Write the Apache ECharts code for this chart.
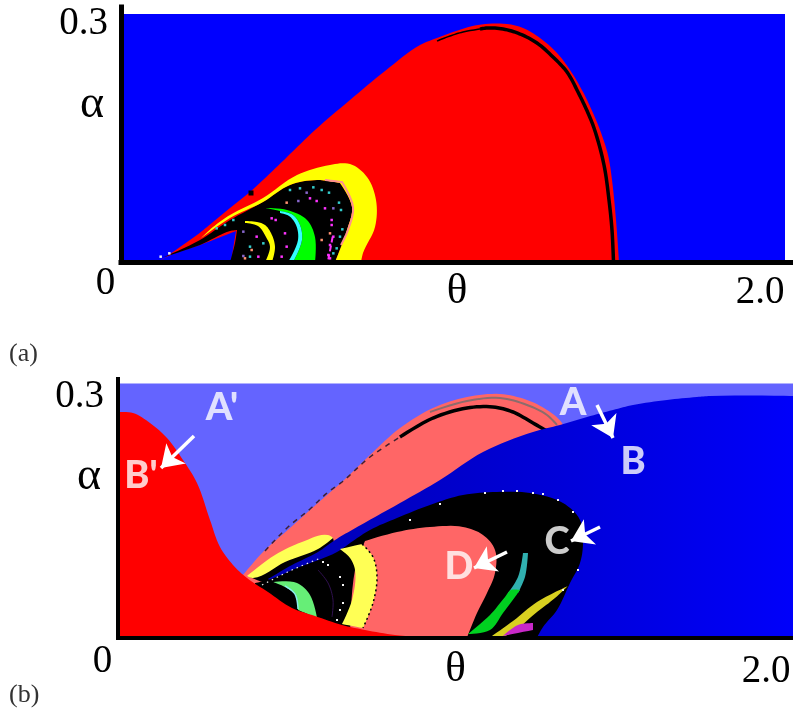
<!DOCTYPE html>
<html><head><meta charset="utf-8">
<script src="https://cdn.jsdelivr.net/npm/echarts@6/dist/echarts.min.js"></script>
<style>html,body{margin:0;padding:0;background:#fff}#c{width:793px;height:710px}</style>
</head><body><div id="c"></div>
<script>
// ---- axis labels
const xTickValues=[0,2.0];
const xTickLabels=['0','2.0'];
const yTickValues=[0.3];
const yTickLabels=['0.3'];
// ---- panel (a): region boundaries in (theta, alpha)
const aDomain=[[0,0],[1.992,0],[1.992,.2976],[0,.2976]];
const aRed=[[.117,.0012],[.177,.018],[.228,.0324],[.276,.048],[.327,.0648],[.387,.084],[.426,.0984],[.498,.126],[.582,.1584],[.687,.1944],[.792,.2292],[.897,.2604],[.948,.2688],[.996,.276],[1.071,.2844],[1.158,.2856],[1.206,.2808],[1.257,.2688],[1.308,.2508],[1.347,.2304],[1.386,.204],[1.416,.1788],[1.437,.1584],[1.461,.1284],[1.473,.0984],[1.485,.0504],[1.494,0],[.33,0],[.345,.0372],[.237,.0204],[.129,.0048]];
const aArcThin=[[.948,.2652],[.987,.2712],[1.026,.276],[1.098,.2808]];
const aArc=[[1.077,.2796],[1.098,.2808],[1.146,.2796],[1.197,.2736],[1.248,.2628],[1.296,.246],[1.338,.228],[1.371,.204],[1.401,.1788],[1.419,.1608],[1.449,.1164],[1.464,.0744],[1.473,.0384],[1.4775,0]];
const aYellow=[[.237,.0276],[.276,.042],[.327,.0564],[.426,.0768],[.528,.1044],[.627,.1164],[.687,.1176],[.738,.102],[.765,.0744],[.762,.042],[.726,.0108],[.72,0],[.642,0],[.678,.0384],[.693,.066],[.657,.0948],[.588,.0984],[.507,.0924],[.426,.072],[.327,.0528]];
const aPink=[[.612,.0984],[.663,.096],[.696,.066],[.681,.0384],[.66,.0204]];
const aBlack=[[.642,0],[.678,.0384],[.693,.066],[.657,.0948],[.588,.0984],[.507,.0924],[.426,.072],[.327,.0504],[.237,.0264],[.129,.006],[.237,.0204],[.327,.0372],[.348,.0384],[.342,.0228],[.327,0]];
const aGreen=[[.432,.0648],[.498,.0624],[.558,.0504],[.582,.03],[.582,0],[.516,0],[.543,.0264],[.537,.0444],[.516,.0564],[.477,.0612]];
const aCyan=[[.501,0],[.531,.0264],[.525,.0444],[.504,.0552],[.477,.0588],[.477,.0612],[.516,.0564],[.537,.0444],[.543,.0264],[.516,0]];
const aYellowSmall=[[.372,.0492],[.408,.048],[.432,.0444],[.45,.0348],[.462,.018],[.453,0],[.432,0],[.447,.018],[.435,.03],[.411,.0432],[.372,.0468]];
const aStreak=[[.635,.0304],[.622,.0032]];
const aDotsCyan=[[.507,.0864],[.537,.0884],[.577,.0896],[.602,.0864],[.624,.0832],[.654,.0712],[.66,.0624],[.664,.0392],[.657,.0304],[.647,.0164],[.637,.0104],[.337,.0504],[.312,.0444],[.287,.0404],[.387,.0184],[.387,.0064],[.427,.0224]];
const aDotsMagenta=[[.567,.0764],[.587,.0732],[.612,.0644],[.632,.0504],[.632,.0444],[.637,.0304],[.627,.0204],[.622,.0084],[.627,.0044],[.452,.0524],[.464,.0504],[.407,.0304],[.412,.0064],[.492,.0344],[.497,.0184],[.482,.0064]];
const aDotsPurple=[[.557,.0832],[.532,.0732],[.637,.0644],[.367,.0364],[.367,.0072]];
const aDotsSalmon=[[.497,.0712],[.602,.0264],[.627,.0344],[.392,.0144],[.372,.0044]];
const aDotsTail=[[.145,.0104],[.119,.0064]];
const aBigDot=[[.39,.0828]];
// ---- panel (b)
const bDomain=[[0,0],[2.025,0],[2.025,.2997],[0,.2997]];
const bLobe=[[.375,.0738],[.435,.1009],[.516,.1292],[.576,.1505],[.627,.1682],[.675,.1847],[.756,.2154],[.846,.2472],[.945,.2708],[1.047,.2838],[1.146,.2873],[1.227,.2803],[1.287,.2685],[1.332,.2531],[1.341,.2425],[.846,.1387],[.396,.056]];
const bArc=[[.846,.2366],[.945,.259],[1.047,.2708],[1.125,.272],[1.185,.2661],[1.245,.2531],[1.287,.2437]];
const bArcDash=[[.441,.1021],[.51,.1304],[.576,.1516],[.627,.1705],[.672,.1835],[.756,.213],[.846,.2366]];
const bArcGrey=[[.936,.2661],[1.047,.2791],[1.146,.2826],[1.227,.2744],[1.287,.2626],[1.317,.2508]];
const bStrip=[[.396,.0714],[.501,.0903],[.645,.1174],[.651,.108],[.456,.0643]];
const bDeep=[[.45,.069],[.522,.0856],[.6,.1009],[.651,.1151],[.702,.1269],[.846,.1587],[.966,.1859],[1.095,.2189],[1.245,.2425],[1.326,.2508],[1.407,.2602],[1.485,.2685],[1.545,.2744],[1.647,.2803],[1.737,.2838],[1.776,.285],[2.025,.285],[2.025,0],[1.146,0],[.546,.0443]];
const bBlack=[[.411,.0643],[.45,.0679],[.537,.082],[.657,.1009],[.705,.1139],[.756,.1269],[.837,.141],[.936,.1564],[1.035,.1682],[1.137,.1717],[1.236,.1705],[1.335,.1587],[1.386,.1387],[1.395,.1115],[1.386,.0879],[1.356,.0643],[1.317,.0325],[1.275,.0124],[1.257,0],[.636,0],[.411,.0443]];
const bSalmon=[[.741,.1139],[.837,.1245],[.936,.1304],[1.035,.1304],[1.095,.121],[1.131,.1033],[1.131,.0761],[1.107,.0525],[1.077,.0289],[1.047,0],[.696,0],[.711,.0797]];
const bYellowMid=[[.666,.1044],[.732,.1103],[.765,.095],[.777,.0714],[.765,.0407],[.735,.0112],[.672,.0159],[.702,.0443],[.711,.0797],[.696,.0938]];
const bYellowEdge=[[.732,.1103],[.765,.095],[.777,.0714],[.765,.0407],[.735,.0112]];
const bYellowSliver=[[.387,.0726],[.471,.0974],[.552,.1127],[.63,.121],[.645,.1174],[.6,.1044],[.501,.0891],[.405,.0702]];
const bMint=[[.465,.0655],[.537,.0643],[.576,.0502],[.597,.023],[.54,.0325],[.531,.0513],[.501,.0596]];
const bMintEdge=[[.501,.0608],[.531,.0513],[.54,.0337]];
const bPurpleArc=[[.6,.0797],[.63,.0644],[.645,.0443],[.642,.0242]];
const bTeal=[[1.23,.0997],[1.221,.0714],[1.2,.0525],[1.17,.0525],[1.2,.0714],[1.215,.0997]];
const bGreen=[[1.206,.0561],[1.191,.0478],[1.155,.0289],[1.116,.0089],[1.05,.0041],[1.116,.0266],[1.161,.0478],[1.179,.0561]];
const bOlive=[[1.35,.0608],[1.257,.0419],[1.185,.0195],[1.122,.0018],[1.161,.0018],[1.257,.0301],[1.311,.0466]];
const bMagenta=[[1.2,.0148],[1.245,.0171],[1.245,.0089],[1.155,.0018]];
const bRed=[[0,.2661],[.045,.2649],[.096,.2531],[.147,.2354],[.195,.2095],[.237,.1823],[.276,.1387],[.306,.1068],[.345,.0856],[.387,.0702],[.45,.0537],[.522,.0348],[.591,.0254],[.672,.0148],[.741,.0089],[.831,.003],[.936,0],[0,0]];
const bTailDots=[[.432,.062],[.522,.0797],[.612,.0944]];
const bDotsWhite=[[.615,.0891],[.63,.0856],[.666,.0714],[.675,.062],[.675,.0407],[.666,.0325],[.657,.0207],[1.101,.1705],[1.155,.1729],[1.197,.1729],[1.245,.1705],[1.275,.1693],[1.32,.1623],[1.365,.1481],[1.38,.0797],[1.335,.0561],[.966,.1575],[.876,.1387]];
const bLetters=['A',"A'",'B',"B'",'C','D'];
const bLetterPos=[[1.365,.2767],[.312,.2708],[1.545,.2071],[.069,.1906],[1.317,.1127],[1.023,.0832]];
const bArrows=[[[1.437,.2744],[1.485,.2354]],[[.228,.2378],[.129,.2]],[[1.446,.1304],[1.359,.1139]],[[1.167,.1009],[1.068,.082]]];

// rounds the drawn outline between read points, keeping sharp corners sharp
function rounded(p,closed){
  const n=p.length,unit=(a,b)=>{const d=Math.hypot(b[0]-a[0],b[1]-a[1])||1;return [(b[0]-a[0])/d,(b[1]-a[1])/d];};
  const tan=p.map((q,i)=>{
    if(!closed&&(i===0||i===n-1))return [0,0];
    const a=unit(p[(i-1+n)%n],q),b=unit(q,p[(i+1)%n]);
    if(a[0]*b[0]+a[1]*b[1]<.64)return [0,0];
    const s=[a[0]+b[0],a[1]+b[1]],d=Math.hypot(s[0],s[1])||1;return [s[0]/d,s[1]/d];
  });
  const out=[];
  for(let i=0;i<(closed?n:n-1);i++){
    const a=p[i],b=p[(i+1)%n],t0=tan[i],t1=tan[(i+1)%n],L=Math.hypot(b[0]-a[0],b[1]-a[1])/3;
    const c1=[a[0]+t0[0]*L,a[1]+t0[1]*L],c2=[b[0]-t1[0]*L,b[1]-t1[1]*L];
    for(let k=0;k<8;k++){const u=k/8,v=1-u;
      out.push([v*v*v*a[0]+3*v*v*u*c1[0]+3*v*u*u*c2[0]+u*u*u*b[0],v*v*v*a[1]+3*v*v*u*c1[1]+3*v*u*u*c2[1]+u*u*u*b[1]]);}
  }
  if(!closed)out.push(p[n-1]);
  return out;
}
let layer=1;
function poly(g,pts,color){
  return {type:'custom',coordinateSystem:'cartesian2d',xAxisIndex:g,yAxisIndex:g,z:layer++,silent:true,animation:false,clip:true,
    data:pts,encode:{x:0,y:1},
    renderItem:(p,api)=>p.dataIndex===0?{type:'polygon',shape:{points:rounded(pts.map(q=>api.coord(q)),true)},style:{fill:color}}:null};
}
function curve(g,pts,color,width,dash){
  return {type:'custom',coordinateSystem:'cartesian2d',xAxisIndex:g,yAxisIndex:g,z:layer++,silent:true,animation:false,clip:true,
    data:pts,encode:{x:0,y:1},
    renderItem:(p,api)=>p.dataIndex===0?{type:'polyline',shape:{points:rounded(pts.map(q=>api.coord(q)),false)},style:{fill:null,stroke:color,lineWidth:width,lineDash:dash||null}}:null};
}
function dots(g,pts,color,size){
  return {type:'scatter',xAxisIndex:g,yAxisIndex:g,z:layer++,silent:true,animation:false,symbol:'rect',symbolSize:size,data:pts,itemStyle:{color:color,opacity:1}};
}
const deepFill=new echarts.graphic.LinearGradient(0,0,1,0,[{offset:0,color:'#0000b4'},{offset:.55,color:'#0000d8'},{offset:1,color:'#0000fa'}]);
const series=[
 poly(0,aDomain,'#0000ff'),
 poly(0,aRed,'#ff0000'),
 poly(0,aBlack,'#000000'),
 poly(0,aYellow,'#ffff00'),
 curve(0,aPink,'#ff8f8f',2),
 poly(0,aGreen,'#00ff00'),
 poly(0,aCyan,'#33ffff'),
 poly(0,aYellowSmall,'#ffff00'),
 curve(0,aArcThin,'#000000',1.5),
 curve(0,aArc,'#000000',3.5),
 curve(0,aStreak,'#ff33ff',2,[6,3]),
 dots(0,aDotsCyan,'#33cccc',2.5),
 dots(0,aDotsMagenta,'#ff33ff',2.5),
 dots(0,aDotsPurple,'#8866cc',2.5),
 dots(0,aDotsSalmon,'#ff9070',2.5),
 dots(0,aDotsTail,'#f0f0ff',2.5),
 dots(0,aBigDot,'#000000',5),

 poly(1,bDomain,'#6464ff'),
 poly(1,bLobe,'#ff6666'),
 curve(1,bArcGrey,'#8c6c6c',2),
 curve(1,bArcDash,'#402030',1.5,[5,5]),
 curve(1,bArc,'#000000',3.5),
 poly(1,bStrip,'#000000'),
 poly(1,bDeep,deepFill),
 poly(1,bBlack,'#000000'),
 poly(1,bSalmon,'#ff6666'),
 poly(1,bYellowMid,'#ffff55'),
 curve(1,bYellowEdge,'#000000',1.5,[2,3]),
 poly(1,bMint,'#66ee77'),
 curve(1,bMintEdge,'#88eeee',1.5),
 curve(1,bPurpleArc,'#301050',1),
 poly(1,bTeal,'#30b0b0'),
 poly(1,bGreen,'#00d020'),
 poly(1,bOlive,'#d8d020'),
 poly(1,bMagenta,'#c828c8'),
 poly(1,bYellowSliver,'#ffff55'),
 poly(1,bRed,'#ff0000'),
 curve(1,bTailDots,'#f0f0f0',1.2,[1.5,4]),
 dots(1,bDotsWhite,'#f4f4f4',2),
 {type:'lines',coordinateSystem:'cartesian2d',xAxisIndex:1,yAxisIndex:1,z:layer++,silent:true,animation:false,
  symbol:['none','arrow'],symbolSize:21,lineStyle:{color:'#ffffff',width:3.5,opacity:1,curveness:0},
  data:bArrows.map(c=>({coords:c}))},
 {type:'scatter',xAxisIndex:1,yAxisIndex:1,z:layer++,silent:true,animation:false,symbolSize:1,itemStyle:{color:'rgba(0,0,0,0)'},
  data:bLetterPos.map((p,i)=>({name:bLetters[i],value:p})),
  label:{show:true,position:'inside',formatter:'{b}',color:'#ffffff',fontFamily:'Lato',fontWeight:900,fontSize:38}}
];
const serif='"Liberation Serif"';
function xAxis(g,max,w,zero,two,gap){
  return {type:'value',gridIndex:g,min:0,max:max,z:200,splitLine:{show:false},axisTick:{show:false},
    axisLine:{onZero:false,lineStyle:{color:'#000',width:w,cap:'square'}},
    name:'θ',nameLocation:'middle',nameGap:gap,nameMoveOverlap:false,nameTextStyle:{fontFamily:serif,fontSize:43,color:'#000',verticalAlign:'top'},
    axisLabel:{customValues:xTickValues,margin:0,verticalAlign:'top',color:'#000',
      formatter:v=>v===0?'{z|'+xTickLabels[0]+'}':'{t|'+xTickLabels[1]+'}',
      rich:{z:{fontFamily:serif,fontSize:39,color:'#000',padding:zero},t:{fontFamily:serif,fontSize:39,color:'#000',padding:two}}}};
}
function yAxis(g,max,w,pad,margin,namePad,gap){
  return {type:'value',gridIndex:g,min:0,max:max,z:200,splitLine:{show:false},axisTick:{show:false},
    axisLine:{onZero:false,lineStyle:{color:'#000',width:w,cap:'square'}},
    name:'{n|α}',nameLocation:'middle',nameRotate:0,nameGap:gap,nameMoveOverlap:false,
    nameTextStyle:{color:'#000',rich:{n:{fontFamily:serif,fontSize:46,color:'#000',padding:namePad}}},
    axisLabel:{customValues:yTickValues,margin:margin,formatter:()=>'{y|'+yTickLabels[0]+'}',
      rich:{y:{fontFamily:serif,fontSize:39,color:'#000',padding:pad}}}};
}
const chart=echarts.init(document.getElementById('c'),null,{renderer:'canvas'});
chart.setOption({
  backgroundColor:'#ffffff',animation:false,
  title:[
   {text:'(a)',left:4,top:336,textStyle:{fontFamily:serif,fontWeight:'normal',fontSize:26,color:'#333'}},
   {text:'(b)',left:4,top:677,textStyle:{fontFamily:serif,fontWeight:'normal',fontSize:26,color:'#333'}}
  ],
  grid:[{left:121,top:7,width:672,height:255,outerBoundsMode:'none'},{left:118,top:379,width:675,height:258.5,outerBoundsMode:'none'}],
  xAxis:[xAxis(0,2.016,5,[2,31,0,0],[11,55,0,0],8),xAxis(1,2.025,4,[5,31,0,0],[15,37,0,0],11)],
  yAxis:[yAxis(0,.306,5,[23,0,0,0],13,[0,0,60,0],17),yAxis(1,.30503,4,[26,0,0,0],14,[0,0,62,0],17)],
  series:series
});
</script></body></html>
